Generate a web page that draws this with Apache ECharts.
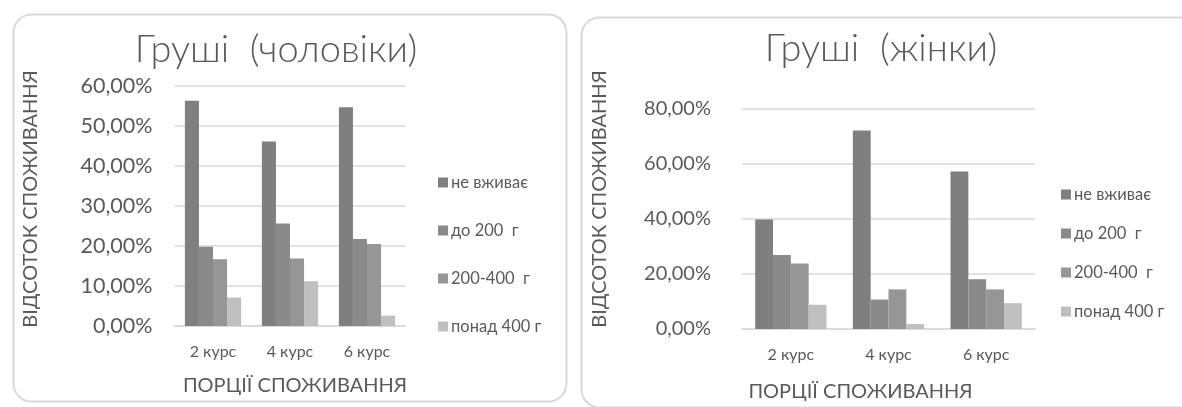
<!DOCTYPE html>
<html>
<head>
<meta charset="utf-8">
<script src="https://cdn.jsdelivr.net/npm/echarts@6/dist/echarts.min.js"></script>
<style>
html,body{margin:0;padding:0;background:#fff;}
#chart{width:1182px;height:407px;}
</style>
</head>
<body>
<div id="chart"></div>
<script>
// ---- data ----
const categories = ['2 курс', '4 курс', '6 курс'];
const seriesNames = ['не вживає', 'до 200  г', '200-400  г', 'понад 400 г'];
// men (чоловіки), percent
const menNone   = [56.3, 46.1, 54.7];
const menTo200  = [19.8, 25.6, 21.75];
const men200400 = [16.7, 16.9, 20.5];
const menOver400 = [7.1, 11.2, 2.6];
// women (жінки), percent
const womenNone   = [39.8, 72.2, 57.3];
const womenTo200  = [26.9, 10.7, 18.1];
const women200400 = [23.8, 14.4, 14.4];
const womenOver400 = [8.8, 1.8, 9.4];
const menTicks = { max: 60, interval: 10 };
const womenTicks = { max: 80, interval: 20 };

const colors = ['#7f7f7f', '#8a8a8a', '#969696', '#bfbfbf'];
const textColor = '#595959';
const font = 'Lato, "Open Sans", sans-serif';

const pct = v => v.toFixed(2).replace('.', ',') + '%';

function bars(data, idx) {
  return data.map((d, i) => ({
    name: seriesNames[i],
    type: 'bar',
    xAxisIndex: idx,
    yAxisIndex: idx,
    data: d,
    barGap: '0%',
    barCategoryGap: '27%',
    itemStyle: { color: colors[i] },
    emphasis: { disabled: true }
  }));
}

const chart = echarts.init(document.getElementById('chart'), null, { renderer: 'canvas' });
chart.setOption({
  animation: false,
  backgroundColor: '#ffffff',
  textStyle: { fontFamily: font, color: textColor },
  graphic: [
    { type: 'rect', left: 11, top: 12, shape: { width: 553, height: 387, r: 18 },
      style: { fill: 'none', stroke: '#d9d9d9', lineWidth: 2 } },
    { type: 'rect', left: 579, top: 15, shape: { width: 640, height: 390, r: 18 },
      style: { fill: 'none', stroke: '#d9d9d9', lineWidth: 2 } }
  ],
  title: [
    { text: 'Груші  (чоловіки)', left: 271, top: 26, textAlign: 'center',
      textStyle: { fontFamily: font, fontSize: 38, fontWeight: 300, color: textColor } },
    { text: 'Груші  (жінки)', left: 876, top: 25, textAlign: 'center',
      textStyle: { fontFamily: font, fontSize: 38, fontWeight: 300, color: textColor } }
  ],
  legend: [
    { data: seriesNames, orient: 'vertical', left: 438, top: 174, padding: 0,
      itemWidth: 10, itemHeight: 10, itemGap: 31, icon: 'rect', selectedMode: false,
      textStyle: { fontFamily: font, fontSize: 16.5, color: textColor, lineHeight: 16, padding: [0, 0, 0, -2] } },
    { data: seriesNames, orient: 'vertical', left: 1061, top: 186, padding: 0,
      itemWidth: 10, itemHeight: 10, itemGap: 22, icon: 'rect', selectedMode: false,
      textStyle: { fontFamily: font, fontSize: 16.5, color: textColor, lineHeight: 16, padding: [0, 0, 0, -2] } }
  ],
  grid: [
    { left: 174.5, top: 86, width: 231, height: 240 },
    { left: 742, top: 109, width: 293, height: 221 }
  ],
  xAxis: [0, 1].map(i => ({
    type: 'category',
    gridIndex: i,
    data: categories,
    name: 'ПОРЦІЇ СПОЖИВАННЯ',
    nameLocation: 'middle',
    nameGap: i === 0 ? 50 : 53,
    nameTextStyle: { fontFamily: font, fontSize: 20, color: textColor,
      padding: i === 0 ? [0, 0, 0, 10] : [0, 56, 0, 0] },
    axisLine: { lineStyle: { color: '#d9d9d9', width: 1.5 } },
    axisTick: { show: false },
    axisLabel: { fontFamily: font, fontSize: 16, color: textColor, margin: 18 }
  })),
  yAxis: [0, 1].map(i => ({
    type: 'value',
    gridIndex: i,
    min: 0,
    max: i === 0 ? menTicks.max : womenTicks.max,
    interval: i === 0 ? menTicks.interval : womenTicks.interval,
    name: 'ВІДСОТОК СПОЖИВАННЯ',
    nameLocation: 'middle',
    nameRotate: 90,
    nameGap: i === 0 ? 134 : 132,
    nameTextStyle: { fontFamily: font, fontSize: 20, color: textColor,
      padding: i === 0 ? [0, 0, 0, 14] : [0, 0, 0, 40] },
    axisLine: { show: false },
    axisTick: { show: false },
    splitLine: { lineStyle: { color: '#d9d9d9', width: 1.5 } },
    axisLabel: { fontFamily: font, fontSize: i === 0 ? 21.5 : 20, color: textColor,
      margin: i === 0 ? 22 : 31, formatter: pct }
  })),
  series: [
    ...bars([menNone, menTo200, men200400, menOver400], 0),
    ...bars([womenNone, womenTo200, women200400, womenOver400], 1)
  ]
});
</script>
</body>
</html>
